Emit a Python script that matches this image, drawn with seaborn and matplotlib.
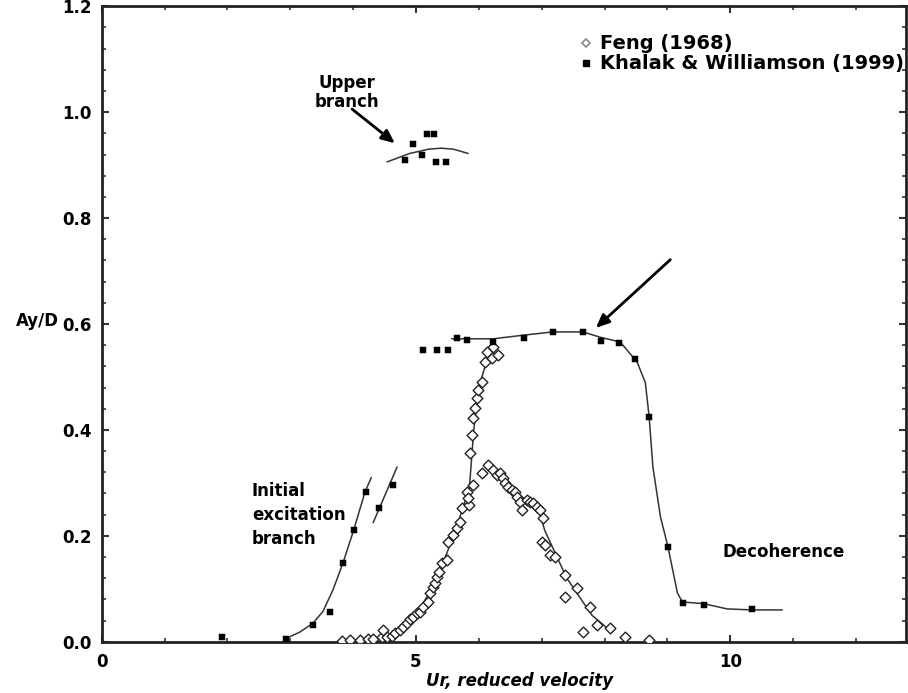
import numpy as np
import pandas as pd
import seaborn as sns
import matplotlib.pyplot as plt
from matplotlib.ticker import MultipleLocator
from matplotlib.lines import Line2D

sns.set_style('ticks')
plt.rcParams['font.family'] = ['DejaVu Sans']
plt.rcParams['font.weight'] = 'bold'
plt.rcParams['text.color'] = 'black'
plt.rcParams['axes.labelcolor'] = 'black'
plt.rcParams['xtick.color'] = 'black'
plt.rcParams['ytick.color'] = 'black'

# Khalak & Williamson (1999) - filled squares
kw_x = [1.91, 2.93, 3.36, 3.63, 3.84, 4.01, 4.20, 4.41, 4.63,
        4.82, 4.95, 5.10, 5.18, 5.29, 5.32, 5.48,
        5.11, 5.33, 5.51, 5.65, 5.81, 6.23, 6.72, 7.18, 7.66, 7.95, 8.23, 8.49,
        8.71, 9.01, 9.25, 9.59, 10.35]
kw_y = [0.008, 0.006, 0.032, 0.057, 0.149, 0.211, 0.283, 0.253, 0.296,
        0.909, 0.940, 0.919, 0.958, 0.958, 0.906, 0.906,
        0.551, 0.551, 0.551, 0.574, 0.570, 0.566, 0.574, 0.585, 0.585, 0.568, 0.564, 0.534,
        0.425, 0.179, 0.074, 0.070, 0.062]

# Feng (1968) - open diamonds
feng_x = [3.82, 3.95, 4.11, 4.24, 4.32, 4.46, 4.47, 4.54, 4.62, 4.67, 4.75, 4.79,
          4.86, 4.90, 4.95, 5.02, 5.06, 5.11, 5.19, 5.22, 5.27, 5.30, 5.33, 5.37,
          5.41, 5.49, 5.51, 5.59, 5.65, 5.70, 5.73, 5.81, 5.84, 5.83, 5.91, 5.86,
          5.89, 5.91, 5.94, 5.97, 5.99, 6.05, 6.10, 6.21, 6.13, 6.31, 6.23,
          6.15, 6.05, 6.23, 6.29, 6.34, 6.39, 6.42, 6.46, 6.53, 6.58, 6.61, 6.66,
          6.69, 6.77, 6.82, 6.86, 6.93, 6.97, 7.02, 7.01, 7.05, 7.13, 7.21, 7.37,
          7.37, 7.56, 7.77, 7.88, 7.66, 8.09, 8.33, 8.71]
feng_y = [0.002, 0.004, 0.004, 0.006, 0.006, 0.009, 0.023, 0.008, 0.011, 0.017, 0.023, 0.028,
          0.036, 0.042, 0.047, 0.055, 0.057, 0.066, 0.075, 0.092, 0.104, 0.111, 0.123, 0.132,
          0.149, 0.155, 0.189, 0.202, 0.215, 0.226, 0.253, 0.283, 0.258, 0.272, 0.296, 0.357,
          0.391, 0.423, 0.442, 0.460, 0.475, 0.491, 0.528, 0.536, 0.547, 0.542, 0.557,
          0.334, 0.319, 0.325, 0.315, 0.319, 0.309, 0.300, 0.292, 0.287, 0.283, 0.274, 0.264,
          0.249, 0.268, 0.264, 0.262, 0.255, 0.249, 0.234, 0.189, 0.183, 0.164, 0.160, 0.126,
          0.085, 0.102, 0.066, 0.032, 0.019, 0.025, 0.008, 0.004]

# fitted curves
init_fit_x = [2.93, 3.15, 3.36, 3.52, 3.68, 3.84, 4.01, 4.19, 4.29]
init_fit_y = [0.006, 0.018, 0.035, 0.057, 0.098, 0.149, 0.211, 0.283, 0.31]
init2_fit_x = [4.32, 4.70]
init2_fit_y = [0.225, 0.330]
upper_fit_x = [4.54, 4.9, 5.2, 5.4, 5.6, 5.83]
upper_fit_y = [0.906, 0.922, 0.930, 0.932, 0.930, 0.922]
lower_fit_x = [5.57, 6.23, 6.72, 7.18, 7.66, 7.93, 8.25, 8.52, 8.65, 8.71, 8.77, 8.89,
               9.01, 9.16, 9.24, 9.57, 9.95, 10.35, 10.83]
lower_fit_y = [0.572, 0.572, 0.579, 0.585, 0.585, 0.575, 0.566, 0.528, 0.489, 0.425, 0.330,
               0.236, 0.179, 0.092, 0.075, 0.072, 0.062, 0.060, 0.060]
feng_rise_x = [4.6, 5.0, 5.3, 5.6, 5.85, 5.92, 6.0, 6.15]
feng_rise_y = [0.01, 0.05, 0.11, 0.2, 0.29, 0.40, 0.48, 0.54]
feng_fall_x = [6.15, 6.5, 6.95, 7.05, 7.4, 7.8, 8.05]
feng_fall_y = [0.335, 0.29, 0.25, 0.21, 0.12, 0.05, 0.025]

fig = plt.figure(figsize=(9.08, 6.93), dpi=100)
ax = fig.add_axes([0.112, 0.074, 0.886, 0.917])

fits = [(init_fit_x, init_fit_y), (init2_fit_x, init2_fit_y), (upper_fit_x, upper_fit_y),
        (lower_fit_x, lower_fit_y), (feng_rise_x, feng_rise_y), (feng_fall_x, feng_fall_y)]
for fx, fy in fits:
    sns.lineplot(x=fx, y=fy, sort=False, color='#333333', lw=1.1, ax=ax)

sns.scatterplot(x=feng_x, y=feng_y, marker='D', s=30, facecolor='white',
                edgecolor='#222222', linewidth=1.0, ax=ax, zorder=3)
sns.scatterplot(x=kw_x, y=kw_y, marker='s', s=18, color='black', edgecolor='black',
                ax=ax, zorder=4)

ax.set_xlim(0, 12.8)
ax.set_ylim(0, 1.2)
ax.xaxis.set_major_locator(MultipleLocator(5))
ax.xaxis.set_minor_locator(MultipleLocator(1))
ax.yaxis.set_major_locator(MultipleLocator(0.2))
ax.yaxis.set_minor_locator(MultipleLocator(0.04))
ax.yaxis.set_major_formatter(plt.FormatStrFormatter('%.1f'))
ax.tick_params(which='both', direction='in', top=True, right=True, labelsize=12,
               color='#333333', labelcolor='black')
ax.tick_params(which='major', length=5, width=1.5)
ax.tick_params(which='minor', length=3, width=1.2)
ax.tick_params(axis='x', pad=8)
ax.tick_params(axis='y', pad=7)
for s in ax.spines.values():
    s.set_linewidth(2)
    s.set_color('#222222')

ax.set_xlabel('Ur, reduced velocity', fontsize=12, fontstyle='italic', fontweight='bold')
ax.xaxis.set_label_coords(0.52, -0.047)
ax.set_ylabel('Ay/D', fontsize=12, rotation=0, fontweight='bold', va='center', ha='center')
ax.yaxis.set_label_coords(-0.08, 0.505)

ax.text(3.90, 1.072, 'Upper\nbranch', fontsize=12, fontweight='bold', va='top', ha='center',
        multialignment='center', linespacing=1.1)
ax.text(2.39, 0.302, 'Initial\nexcitation\nbranch', fontsize=12, fontweight='bold', va='top',
        linespacing=1.42)
ax.text(9.87, 0.17, 'Decoherence', fontsize=12, fontweight='bold', va='center')

arrow = dict(arrowstyle='-|>,head_width=0.35,head_length=0.8', color='black', lw=2)
ax.annotate('', xy=(4.70, 0.938), xytext=(3.95, 1.009), arrowprops=arrow)
ax.annotate('', xy=(7.83, 0.589), xytext=(9.08, 0.725), arrowprops=arrow)

handles = [Line2D([], [], marker='D', ls='', color='#888888', mfc='white', ms=4, mew=1.2),
           Line2D([], [], marker='s', ls='', color='black', ms=4)]
ax.legend(handles, ['Feng (1968)', 'Khalak & Williamson (1999)'], loc='upper left',
          bbox_to_anchor=(0.583, 0.968), frameon=False, handletextpad=0.3,
          handlelength=0.8, labelspacing=0.05, borderaxespad=0,
          prop={'size': 14, 'weight': 'bold'})

fig.savefig('out.png', dpi=100)
